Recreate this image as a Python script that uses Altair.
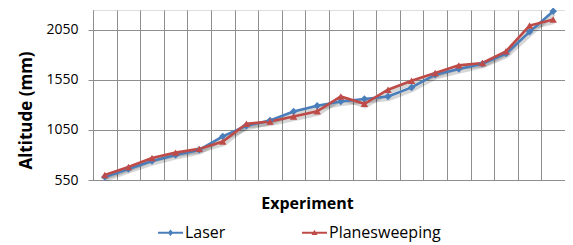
import altair as alt
import pandas as pd

experiments = list(range(1, 21))
laser = [580, 660, 740, 800, 850, 985, 1090, 1143, 1233, 1290,
         1333, 1357, 1383, 1473, 1600, 1657, 1710, 1810, 2027, 2233]
planesweeping = [600, 680, 770, 823, 860, 933, 1110, 1133, 1183, 1235,
                 1383, 1310, 1450, 1540, 1617, 1693, 1717, 1833, 2090, 2150]
series_names = ["Laser", "Planesweeping"]
series_colors = ["#4A7EBB", "#BE4B48"]
series_shapes = ["diamond", "triangle-up"]
y_ticks = [550, 1050, 1550, 2050]
x_bounds = [e - 0.5 for e in experiments] + [experiments[-1] + 0.5]

df = pd.DataFrame({
    "Experiment": experiments * 2,
    "Altitude": laser + planesweeping,
    "Series": [series_names[0]] * len(laser) + [series_names[1]] * len(planesweeping),
})

GRID = "#8E8E8E"
FONT = "Open Sans"

x = alt.X(
    "Experiment:Q",
    scale=alt.Scale(domain=[x_bounds[0], x_bounds[-1]], nice=False, zero=False),
    axis=alt.Axis(
        values=x_bounds, labels=False, ticks=False, grid=True, gridColor=GRID,
        gridWidth=1, domainColor=GRID, domainWidth=1,
        title="Experiment", titleFont=FONT, titleFontSize=16, titleFontWeight="bold",
        titleColor="#000", titleX=214, titleY=28, titleBaseline="alphabetic",
        titleAlign="center",
    ),
)
y = alt.Y(
    "Altitude:Q",
    scale=alt.Scale(domain=[550, 2245], nice=False, zero=False),
    axis=alt.Axis(
        values=y_ticks, format="d", grid=True, gridColor=GRID, gridWidth=1,
        domainColor=GRID, domainWidth=1, tickColor=GRID, tickSize=5,
        labelFont=FONT, labelFontSize=14, labelColor="#000", labelPadding=10,
        title="Altitude (mm)", titleFont=FONT, titleFontSize=17,
        titleFontWeight="bold", titleColor="#000", titleAngle=270,
        titleX=-62, titleY=100, titleBaseline="alphabetic", titleAlign="center",
    ),
)

laser_path = "M-1,-0.08L1,-0.08L1,0.08L-1,0.08Z M-0.22,0L0,-0.26L0.22,0L0,0.26Z"
planes_path = "M-1,-0.08L1,-0.08L1,0.08L-1,0.08Z M-0.24,0.18L0,-0.24L0.24,0.18Z"

legend = alt.Legend(
    orient="none", legendX=65, legendY=210, direction="horizontal", title=None,
    symbolType=alt.ExprRef(f"datum.value === '{series_names[0]}' ? '{laser_path}' : '{planes_path}'"),
    symbolFillColor=alt.ExprRef("scale('color', datum.value)"),
    symbolStrokeWidth=0, symbolSize=625,
    labelFont=FONT, labelFontSize=16, labelColor="#000", labelOffset=2,
    columnPadding=76, padding=0,
)

color_scale = alt.Scale(domain=series_names, range=series_colors)

base = alt.Chart(df)

shadow = base.mark_line(color="#000", opacity=0.16, strokeWidth=4, xOffset=1, yOffset=2.5).encode(
    x=x, y=y, detail="Series:N"
)
lines = base.mark_line(strokeWidth=2.6).encode(
    x=x, y=y, color=alt.Color("Series:N", scale=color_scale, legend=legend)
)
point_layers = [
    base.transform_filter(alt.datum.Series == name)
    .mark_point(filled=True, size=55, opacity=1, shape=shape)
    .encode(x=x, y=y, color=alt.Color("Series:N", scale=color_scale, legend=None))
    for name, shape in zip(series_names, series_shapes)
]

chart = alt.layer(shadow, lines, *point_layers).properties(
    width=472, height=170,
    autosize=alt.AutoSizeParams(type="none"),
    padding={"left": 85, "top": 2, "right": 0, "bottom": 65},
).configure_view(stroke=None).configure(background="white")

chart.save("out.html", embed_options={"renderer": "svg", "actions": False})
